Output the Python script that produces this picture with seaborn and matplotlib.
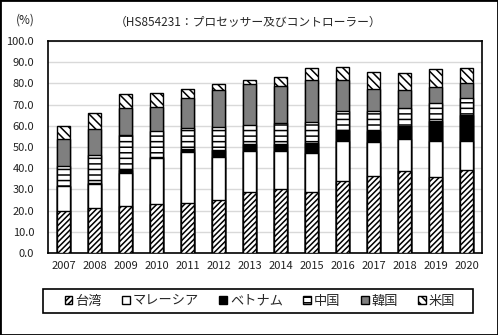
import matplotlib
matplotlib.use("Agg")
import matplotlib.pyplot as plt
from matplotlib.patches import Rectangle, Patch
import numpy as np
import pandas as pd
import seaborn as sns

years = ["2007", "2008", "2009", "2010", "2011", "2012", "2013",
         "2014", "2015", "2016", "2017", "2018", "2019", "2020"]

taiwan   = [19.9, 21.0, 22.1, 23.1, 23.7, 24.8, 29.0, 30.2, 28.6, 34.0, 36.5, 38.7, 35.7, 39.2]
malaysia = [11.7, 11.6, 15.8, 21.9, 24.0, 20.7, 19.3, 17.7, 18.8, 18.9, 15.8, 15.2, 17.2, 13.7]
vietnam  = [0.2, 0.3, 1.3, 0.5, 1.3, 3.2, 3.1, 3.5, 4.7, 4.9, 5.4, 5.8, 9.5, 12.0]
china    = [9.3, 13.1, 16.6, 12.2, 10.1, 10.7, 9.1, 9.9, 9.7, 9.4, 9.1, 8.7, 8.4, 8.3]
korea    = [12.8, 12.5, 12.6, 11.0, 13.9, 17.4, 19.0, 17.4, 20.0, 14.6, 10.6, 8.7, 7.4, 7.1]
usa      = [6.1, 7.4, 6.7, 6.8, 4.5, 3.0, 2.3, 4.4, 5.6, 6.1, 7.9, 7.9, 8.4, 7.2]

series_names = ["台湾", "マレーシア", "ベトナム", "中国", "韓国", "米国"]
series_vals = [taiwan, malaysia, vietnam, china, korea, usa]
styles = [
    dict(color="white", hatch="//////"),
    dict(color="white", hatch=""),
    dict(color="black", hatch=""),
    dict(color="white", hatch="---"),
    dict(color="#7f7f7f", hatch=""),
    dict(color="white", hatch="\\\\\\\\"),
]

sns.set_style("white")
plt.rcParams["font.family"] = ["Noto Sans CJK JP", "DejaVu Sans"]
plt.rcParams["hatch.linewidth"] = 1.1

fig = plt.figure(figsize=(4.98, 3.35), dpi=100)
ax = fig.add_axes([48 / 498, 1 - 253 / 335, 434 / 498, 212 / 335])

# stacked bars: draw cumulative totals from the top segment down so each
# lower segment covers the one above it
cum = np.cumsum(np.array(series_vals), axis=0)
for i in range(len(series_names) - 1, -1, -1):
    df = pd.DataFrame({"year": years, "value": cum[i]})
    sns.barplot(data=df, x="year", y="value", ax=ax, width=0.39,
                color=styles[i]["color"], hatch=styles[i]["hatch"],
                edgecolor="black", linewidth=1.0, saturation=1, zorder=3)

ax.set_ylim(0, 100)
ax.set_xlim(-0.5, len(years) - 0.5)
ax.set_yticks(np.arange(0, 101, 10))
ax.set_yticklabels([f"{v:.1f}" for v in np.arange(0, 101, 10)])
ax.set_xlabel("")
ax.set_ylabel("")
ax.grid(axis="y", color="#d9d9d9", linewidth=1.0, zorder=0)
ax.set_axisbelow(True)
for s in ax.spines.values():
    s.set_color("black")
    s.set_linewidth(1.2)
    s.set_visible(True)
ax.tick_params(axis="y", length=0, pad=10, labelsize=8, colors="#222222")
ax.tick_params(axis="x", length=0, pad=6, labelsize=8, colors="#222222")

fig.text(25 / 498, 1 - 20 / 335, "(%)", ha="center", va="center", fontsize=8.5)
fig.text(248 / 498, 1 - 22 / 335, "（HS854231：プロセッサー及びコントローラー）",
         ha="center", va="center", fontsize=8.5)

handles = [Patch(facecolor=st["color"], hatch=st["hatch"], edgecolor="black",
                 linewidth=1.0) for st in styles]
leg = fig.legend(handles, series_names, ncol=6, loc="center",
                 bbox_to_anchor=(260 / 498, 1 - 301 / 335), frameon=False,
                 fontsize=9.5, handlelength=0.6, handleheight=0.6,
                 handletextpad=0.2, columnspacing=1.55)

# legend box
fig.patches.append(Rectangle((43 / 498, 1 - 313 / 335), 430 / 498, 24 / 335,
                             transform=fig.transFigure, fill=False,
                             edgecolor="black", linewidth=1.2))
# outer frame
fig.patches.append(Rectangle((0, 0), 1, 1, transform=fig.transFigure,
                             fill=False, edgecolor="black", linewidth=2.0))

fig.savefig("out.png", dpi=100)
